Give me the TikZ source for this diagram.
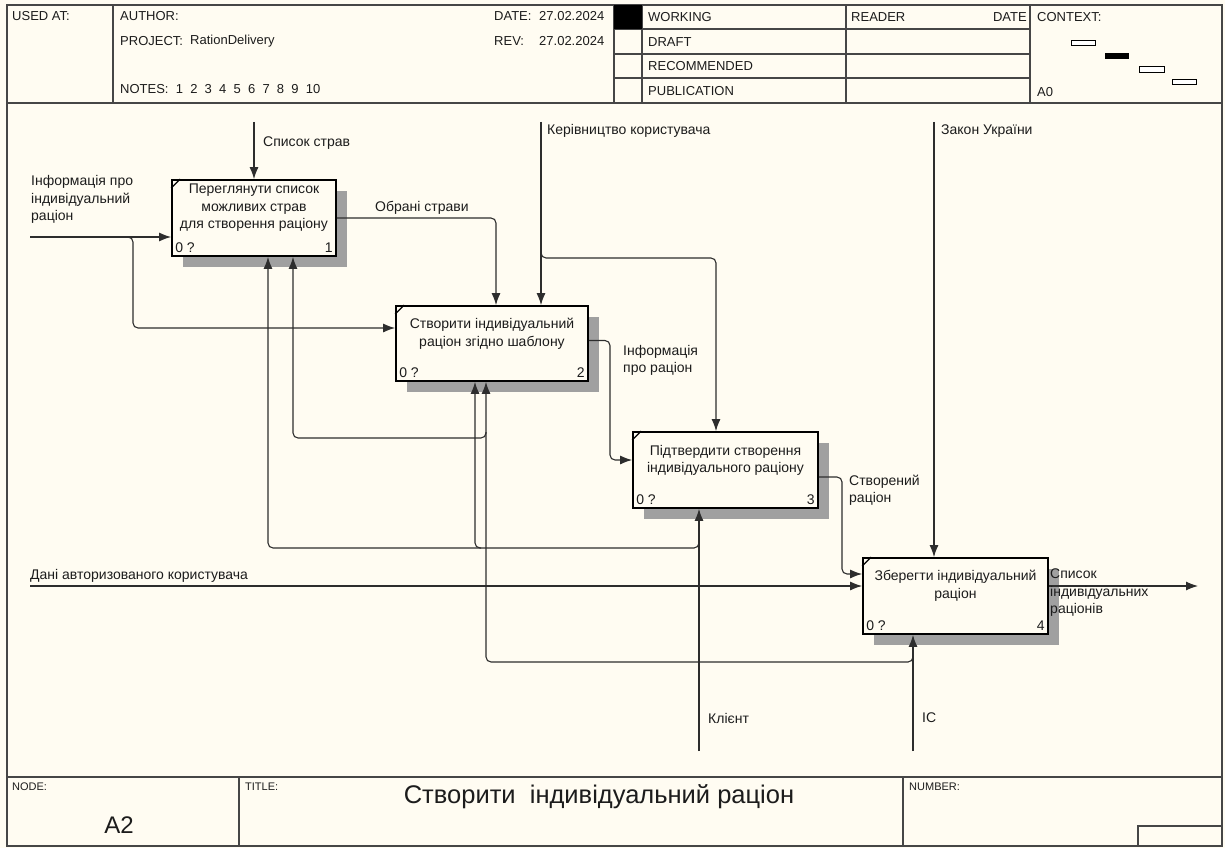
\documentclass[tikz,border=0pt]{standalone}
\usepackage{fontspec}
\setmainfont{Liberation Sans}
\usetikzlibrary{arrows.meta,shadows}
\definecolor{cream}{RGB}{255,252,242}
\definecolor{ink}{RGB}{28,28,28}
\definecolor{ln}{RGB}{45,45,45}
\definecolor{fr}{RGB}{70,70,70}
\definecolor{shd}{RGB}{160,160,160}
\begin{document}
\begin{tikzpicture}[x=1pt,y=-1pt,
  every node/.style={text=ink},
  f13/.style={font=\fontsize{14}{17.5}\selectfont},
  lbl/.style={f13,inner sep=0,anchor=west,align=left},
  hdr/.style={font=\fontsize{13}{15}\selectfont,inner sep=0,anchor=west},
  ftr/.style={font=\fontsize{11}{13}\selectfont,inner sep=0,anchor=west},
  box/.style={draw=black,line width=1.8pt,fill=cream,inner sep=0,
    drop shadow={shadow xshift=11pt,shadow yshift=-11pt,fill=shd,opacity=1}},
  boxt/.style={f13,align=center,inner sep=0},
  cnum/.style={f13,inner sep=0},
  arr/.style={draw=ln,line width=1.1pt,rounded corners=5pt,-{Latex[length=12pt,width=9pt]}},
  frame/.style={draw=fr,line width=1.4pt},
  tick/.style={draw=black,line width=1.2pt},
  ctx/.style={draw=black,line width=1pt,fill=white},
]
\useasboundingbox (0,0) rectangle (1225,848);
\fill[cream] (0,0) rectangle (1225,848);

% ---------- frame ----------
\draw[frame,line width=2pt] (7,5) rectangle (1222,846);
\draw[frame] (113,5) -- (113,103);
\draw[frame] (614,5) -- (614,103);
\draw[frame] (642,5) -- (642,103);
\draw[frame] (846,5) -- (846,103);
\draw[frame] (1030,5) -- (1030,103);
\foreach \yy in {29,54,78} \draw[frame] (614,\yy) -- (1030,\yy);
\fill[black] (614,5) rectangle (642,29);
\draw[frame,line width=2.2pt] (7,103) -- (1222,103);

\draw[frame,line width=2pt] (7,777) -- (1222,777);
\draw[frame] (239,777) -- (239,846);
\draw[frame] (903,777) -- (903,846);
\draw[frame] (1138,826) rectangle (1222,846);

% ---------- header texts ----------
\node[hdr] (usedat) at (12,16) {USED AT:};
\node[hdr] (author) at (120,16) {AUTHOR:};
\node[hdr] (project) at (120,41) {PROJECT:};
\node[hdr] (projname) at (190,41) {RationDelivery};
\node[hdr] (notes) at (120,89) {NOTES:\ \ 1\ \ 2\ \ 3\ \ 4\ \ 5\ \ 6\ \ 7\ \ 8\ \ 9\ \ 10};
\node[hdr] (date) at (494,16) {DATE:};
\node[hdr] (dateval) at (539,16) {27.02.2024};
\node[hdr] (rev) at (494,41) {REV:};
\node[hdr] (revval) at (539,41) {27.02.2024};
\node[hdr] (working) at (648,17) {WORKING};
\node[hdr] (draft) at (648,42) {DRAFT};
\node[hdr] (recom) at (648,66) {RECOMMENDED};
\node[hdr] (publ) at (648,91) {PUBLICATION};
\node[hdr] (reader) at (851,17) {READER};
\node[hdr,anchor=east] (rdate) at (1027,17) {DATE};
\node[hdr] (context) at (1037,17) {CONTEXT:};
\node[hdr] (azero) at (1037,92) {A0};
\draw[ctx] (1071,41) rectangle (1095,46);
\draw[ctx,fill=black] (1105,54) rectangle (1128,59);
\draw[ctx] (1139,67) rectangle (1164,73);
\draw[ctx] (1172,80) rectangle (1196,85);

% ---------- footer texts ----------
\node[ftr] (nodelbl) at (12,787) {NODE:};
\node[ftr] (titlelbl) at (245,787) {TITLE:};
\node[ftr] (numlbl) at (909,787) {NUMBER:};
\node[font=\fontsize{24}{26}\selectfont,inner sep=0] (nodeval) at (119,825) {A2};
\node[font=\fontsize{25.5}{28}\selectfont,inner sep=0] (title) at (599,797) {Створити~ індивідуальний раціон};

% ---------- boxes ----------
\node[box,minimum width=164pt,minimum height=76pt] (b1) at (254,218) {};
\node[box,minimum width=192pt,minimum height=75pt] (b2) at (492,343.5) {};
\node[box,minimum width=185pt,minimum height=76pt] (b3) at (725.5,470) {};
\node[box,minimum width=185pt,minimum height=76pt] (b4) at (955.5,596) {};

\node[boxt] (t1) at ([yshift=10pt]b1.center) {Переглянути список\\можливих страв\\для створення раціону};
\node[boxt] (t2) at ([yshift=9.5pt]b2.center) {Створити індивідуальний\\раціон згідно шаблону};
\node[boxt] (t3) at ([yshift=9.5pt]b3.center) {Підтвердити створення\\індивідуального раціону};
\node[boxt] (t4) at ([yshift=10pt]b4.center) {Зберегти індивідуальний\\раціон};

\foreach \b/\n in {b1/1,b2/2,b3/3,b4/4}{
  \node[cnum,anchor=south west] (\b za) at ([xshift=4pt,yshift=4pt]\b.south west) {0 ?};
  \node[cnum,anchor=south east] (\b zb) at ([xshift=-4pt,yshift=4pt]\b.south east) {\n};
  \draw[tick] ([yshift=-9pt]\b.north west) -- ([xshift=9pt]\b.north west);
}

% ---------- connectors ----------
% Список страв
\coordinate (c1) at (254,122);
\draw[arr] (c1) -- (c1 |- b1.north);
\node[lbl] (lc1) at (263,143) {Список страв};

% Інформація про індивідуальний раціон
\coordinate (i1) at (30,237);
\draw[arr] (i1) -- (i1 -| b1.west);
\coordinate (i1j) at (127,237);
\coordinate (i1b) at (133,328);
\draw[arr] (i1j) -| (i1b) -- (i1b -| b2.west);
\node[lbl] (li1) at (31,199.5) {Інформація про\\індивідуальний\\раціон};

% Обрані страви
\coordinate (o1) at (496,250);
\draw[arr] (b1.east) -| (o1) -- (o1 |- b2.north);
\node[lbl] (lo1) at (375,208) {Обрані страви};

% Керівництво користувача
\coordinate (k0) at (541,122);
\draw[arr] (k0) -- (k0 |- b2.north);
\coordinate (kj) at (541,251);
\coordinate (kb) at (716,258);
\draw[arr] (kj) |- (kb) -- (kb |- b3.north);
\node[lbl] (lk0) at (547,131) {Керівництво користувача};

% Інформація про раціон
\coordinate (r2) at (610,460);
\draw[arr] ([yshift=3pt]b2.east) -| (r2) -- (r2 -| b3.west);
\node[lbl] (lr2) at (623,360.5) {Інформація\\про раціон};

% Створений раціон
\coordinate (r3) at (842,574);
\draw[arr] ([yshift=-7pt]b3.east) -| (r3) -- (r3 -| b4.west);
\node[lbl] (lr3) at (849,490.5) {Створений\\раціон};

% Закон України
\coordinate (z0) at (934,122);
\draw[arr] (z0) -- (z0 |- b4.north);
\node[lbl] (lz0) at (941,131) {Закон України};

% Дані авторизованого користувача
\coordinate (d0) at (30,586);
\draw[arr] (d0) -- (d0 -| b4.west);
\node[lbl] (ld0) at (30,576) {Дані авторизованого користувача};

% Список індивідуальних раціонів
\coordinate (o4) at (1198,586);
\draw[arr] (o4 -| b4.east) -- (o4);
\node[lbl] (lo4) at (1050,593) {Список\\індивідуальних\\раціонів};

% Клієнт
\coordinate (m1) at (699,751);
\draw[arr] (m1) -- (m1 |- b3.south);
\coordinate (m1j) at (699,541);
\coordinate (m1a) at (268,548);
\draw[arr] (m1j) |- (m1a) -- (m1a |- b1.south);
\coordinate (m1c) at (481,548);
\coordinate (m1d) at (475,400);
\draw[arr] (m1c) -| (m1d) -- (m1d |- b2.south);
\node[lbl] (lm1) at (708,718) {Клієнт};

% IC
\coordinate (m2) at (913,751);
\draw[arr] (m2) -- (m2 |- b4.south);
\coordinate (m2j) at (913,655);
\coordinate (m2a) at (486,662);
\draw[arr] (m2j) |- (m2a) -- (m2a |- b2.south);
\coordinate (m2k) at (486,432);
\coordinate (m2b) at (293,438);
\draw[arr] (m2k) |- (m2b) -- (m2b |- b1.south);
\node[lbl] (lm2) at (922,718) {IC};
\end{tikzpicture}
\end{document}
